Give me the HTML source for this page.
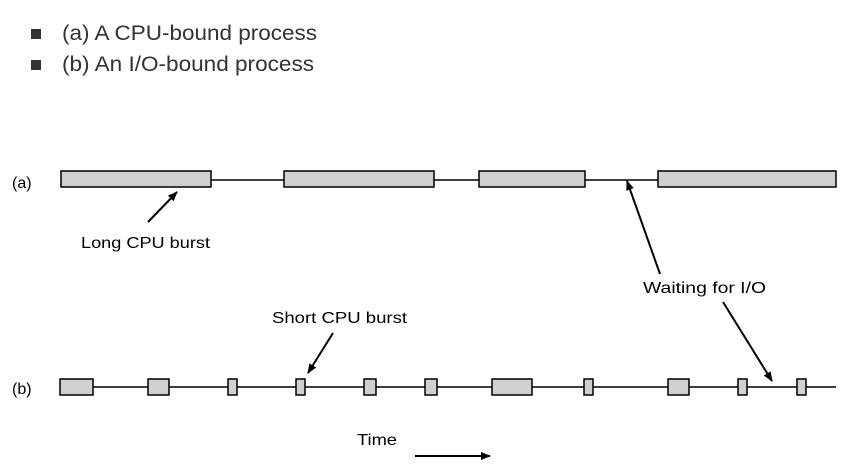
<!DOCTYPE html>
<html><head><style>
body{margin:0;background:#fff;width:860px;height:467px;overflow:hidden;font-family:"Liberation Sans",sans-serif}
</style></head><body>
<svg width="860" height="467" xmlns="http://www.w3.org/2000/svg" font-family="Liberation Sans, sans-serif">
<defs><marker id="ah" markerWidth="10" markerHeight="8" refX="9" refY="4" orient="auto" markerUnits="userSpaceOnUse"><path d="M0,0 L10,4 L0,8 Z" fill="#000"/></marker></defs>
<rect x="31" y="29" width="10" height="10" fill="#333"/>
<rect x="31" y="60" width="10" height="10" fill="#333"/>
<text x="62" y="40" font-size="21" fill="#333" textLength="255" lengthAdjust="spacingAndGlyphs">(a) A CPU-bound process</text>
<text x="62" y="71" font-size="21" fill="#333" textLength="252" lengthAdjust="spacingAndGlyphs">(b) An I/O-bound process</text>
<text x="12" y="188" font-size="16">(a)</text>
<line x1="211" y1="180" x2="658" y2="180" stroke="#000" stroke-width="1.5"/>
<g fill="#d0d0d0" stroke="#000" stroke-width="1.5">
<rect x="61" y="171" width="150" height="16"/>
<rect x="284" y="171" width="150" height="16"/>
<rect x="479" y="171" width="106" height="16"/>
<rect x="658" y="171" width="178" height="16"/>
</g>
<text x="12" y="394" font-size="16">(b)</text>
<line x1="93" y1="387" x2="836" y2="387" stroke="#000" stroke-width="1.5"/>
<g fill="#d0d0d0" stroke="#000" stroke-width="1.5">
<rect x="60" y="379" width="33" height="16"/>
<rect x="148" y="379" width="21" height="16"/>
<rect x="228" y="379" width="9" height="16"/>
<rect x="296" y="379" width="9" height="16"/>
<rect x="364" y="379" width="12" height="16"/>
<rect x="425" y="379" width="12" height="16"/>
<rect x="492" y="379" width="40" height="16"/>
<rect x="584" y="379" width="9" height="16"/>
<rect x="668" y="379" width="21" height="16"/>
<rect x="738" y="379" width="9" height="16"/>
<rect x="797" y="379" width="9" height="16"/>
</g>
<g stroke="#000" stroke-width="2" marker-end="url(#ah)">
<line x1="148" y1="222" x2="177" y2="192"/>
<line x1="660" y1="274" x2="627" y2="181"/>
<line x1="723" y1="302" x2="772" y2="381"/>
<line x1="333" y1="333" x2="308" y2="373"/>
<line x1="415" y1="456" x2="490" y2="456"/>
</g>
<text x="81" y="248" font-size="16" textLength="129" lengthAdjust="spacingAndGlyphs">Long CPU burst</text>
<text x="643" y="293" font-size="16" textLength="123" lengthAdjust="spacingAndGlyphs">Waiting for I/O</text>
<text x="272" y="323" font-size="16" textLength="135" lengthAdjust="spacingAndGlyphs">Short CPU burst</text>
<text x="357" y="445" font-size="16" textLength="40" lengthAdjust="spacingAndGlyphs">Time</text>
</svg>
</body></html>
